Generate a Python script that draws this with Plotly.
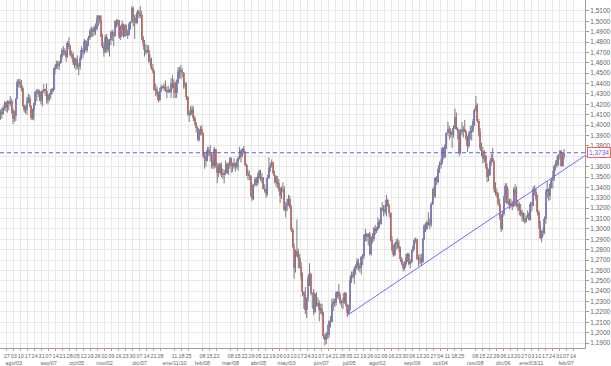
import plotly.graph_objects as go
import pandas as pd

# EUR/USD daily bars, 16-Jul-2009 .. 01-Feb-2011 (business days)
open_ = [
 1.4100,1.4130,1.4110,1.4160,1.4220,1.4160,1.4225,1.4200,1.4230,1.4150,1.4060,1.4090,
 1.4255,1.4420,1.4410,1.4400,1.4360,1.4180,1.4150,1.4150,1.4230,1.4260,1.4180,1.4070,1.4150,1.4210,1.4320,1.4330,1.4300,1.4310,1.4230,1.4330,1.4340,
 1.4330,1.4240,1.4260,1.4290,1.4330,1.4340,1.4530,1.4560,1.4590,1.4570,1.4600,1.4660,1.4720,1.4710,1.4700,1.4660,1.4790,1.4750,1.4680,1.4680,1.4610,1.4580,
 1.4640,1.4570,1.4560,1.4650,1.4720,1.4690,1.4810,1.4720,1.4780,1.4840,1.4910,1.4910,1.4900,1.4940,1.4930,1.5020,1.5050,1.5010,1.4850,1.4760,1.4700,1.4850,
 1.4720,1.4780,1.4820,1.4900,1.4860,1.4860,1.5000,1.4970,1.5010,1.4850,1.4950,1.4970,1.4860,1.4960,1.4890,1.4870,1.4970,1.4990,1.5130,1.5030,1.4990,
 1.5000,1.5090,1.5070,1.5060,1.4850,1.4800,1.4720,1.4700,1.4720,1.4620,1.4640,1.4550,1.4520,1.4340,1.4340,1.4300,1.4240,1.4330,1.4370,1.4360,1.4380,1.4340,1.4320,
 1.4330,1.4320,1.4410,1.4360,1.4410,1.4310,1.4410,1.4510,1.4530,1.4520,1.4500,1.4380,1.4390,1.4270,1.4110,1.4100,1.4150,1.4150,1.4070,1.4020,1.3970,
 1.3860,1.3930,1.3960,1.3920,1.3700,1.3670,1.3660,1.3760,1.3730,1.3720,1.3610,1.3620,1.3770,1.3610,1.3540,1.3610,1.3620,1.3520,1.3520,1.3540,
 1.3630,1.3540,1.3620,1.3680,1.3610,1.3620,1.3630,1.3600,1.3640,1.3680,1.3760,1.3700,1.3770,1.3740,1.3620,1.3530,1.3520,1.3510,1.3320,1.3290,1.3420,1.3480,1.3440,
 1.3510,1.3560,1.3500,1.3490,1.3380,1.3370,1.3340,1.3490,1.3590,1.3610,1.3640,1.3540,1.3510,1.3450,1.3440,1.3390,1.3320,1.3380,1.3380,1.3180,1.3220,1.3240,
 1.3290,1.3200,1.2990,1.2830,1.2620,1.2740,1.2790,1.2720,1.2640,1.2550,1.2390,1.2360,1.2220,1.2330,1.2530,1.2570,1.2380,1.2380,1.2200,1.2370,1.2270,
 1.2290,1.2220,1.2230,1.2180,1.1970,1.1930,1.1990,1.1980,1.2110,1.2100,1.2280,1.2300,1.2290,1.2380,1.2390,1.2350,1.2290,1.2290,1.2310,1.2380,1.2270,1.2190,
 1.2230,1.2510,1.2560,1.2540,1.2610,1.2630,1.2690,1.2640,1.2620,1.2730,1.2740,1.2940,1.2950,1.2920,1.2950,1.2760,1.2920,1.2900,1.3010,1.2980,1.3000,1.3070,
 1.3050,1.3200,1.3190,1.3160,1.3190,1.3280,1.3220,1.3150,1.2890,1.2800,1.2750,1.2850,1.2870,1.2840,1.2820,1.2710,1.2660,1.2620,1.2660,1.2720,1.2760,1.2660,
 1.2680,1.2790,1.2830,1.2890,1.2900,1.2710,1.2720,1.2710,1.2680,1.2900,1.3030,1.3000,1.3070,1.3050,1.3040,1.3240,1.3380,1.3320,1.3490,1.3450,1.3580,1.3620,
 1.3630,1.3780,1.3690,1.3810,1.3920,1.3960,1.3940,1.3900,1.3920,1.3970,1.4080,1.3960,1.3930,1.3730,1.3940,1.3950,1.3960,1.3930,1.3870,1.3800,1.3920,
 1.3940,1.3950,1.4040,1.4150,1.4190,1.4040,1.3930,1.3780,1.3750,1.3670,1.3700,1.3600,1.3500,1.3520,1.3640,1.3680,1.3650,1.3380,1.3360,1.3330,1.3240,1.3120,
 1.3000,1.3140,1.3310,1.3410,1.3270,1.3250,1.3230,1.3250,1.3220,1.3380,1.3370,1.3220,1.3240,1.3180,1.3140,1.3150,1.3100,1.3070,1.3110,1.3150,1.3090,1.3240,1.3230,
 1.3380,1.3360,1.3290,1.3160,1.3040,1.2910,1.2970,1.2980,1.3100,1.3360,1.3380,1.3320,1.3430,1.3470,1.3490,1.3610,1.3620,1.3660,1.3710,1.3750,1.3610,
 1.3690,
]
high = [
 1.4150,1.4170,1.4190,1.4230,1.4225,1.4240,1.4240,1.4280,1.4255,1.4160,1.4140,1.4260,
 1.4440,1.4445,1.4445,1.4435,1.4380,1.4200,1.4190,1.4270,1.4300,1.4290,1.4190,1.4160,1.4215,1.4330,1.4345,1.4350,1.4340,1.4330,1.4340,1.4395,1.4350,
 1.4400,1.4300,1.4310,1.4350,1.4360,1.4550,1.4580,1.4620,1.4620,1.4620,1.4680,1.4740,1.4760,1.4740,1.4720,1.4810,1.4845,1.4770,1.4720,1.4700,1.4650,1.4650,
 1.4670,1.4600,1.4670,1.4760,1.4740,1.4830,1.4820,1.4800,1.4860,1.4930,1.4950,1.4940,1.4960,1.4980,1.5060,1.5060,1.5060,1.5060,1.4880,1.4800,1.4870,1.4880,
 1.4830,1.4830,1.4910,1.4920,1.4900,1.5010,1.5020,1.5020,1.5010,1.4960,1.5010,1.4980,1.4970,1.4970,1.4920,1.4990,1.5000,1.5145,1.5140,1.5060,1.5070,
 1.5110,1.5110,1.5145,1.5100,1.4860,1.4820,1.4780,1.4770,1.4770,1.4680,1.4650,1.4590,1.4530,1.4400,1.4370,1.4320,1.4360,1.4390,1.4380,1.4400,1.4430,1.4370,1.4380,
 1.4350,1.4450,1.4480,1.4440,1.4420,1.4440,1.4560,1.4560,1.4580,1.4550,1.4510,1.4420,1.4410,1.4280,1.4140,1.4180,1.4190,1.4180,1.4090,1.4030,1.3990,
 1.3940,1.3990,1.4000,1.3930,1.3740,1.3730,1.3790,1.3790,1.3810,1.3730,1.3660,1.3790,1.3770,1.3640,1.3630,1.3640,1.3640,1.3580,1.3570,1.3660,
 1.3640,1.3640,1.3690,1.3690,1.3640,1.3680,1.3640,1.3670,1.3700,1.3790,1.3760,1.3780,1.3800,1.3750,1.3630,1.3570,1.3560,1.3520,1.3440,1.3430,1.3500,1.3500,1.3540,
 1.3570,1.3570,1.3540,1.3500,1.3430,1.3390,1.3520,1.3690,1.3640,1.3670,1.3640,1.3560,1.3520,1.3510,1.3480,1.3400,1.3410,1.3450,1.3410,1.3260,1.3290,1.3330,
 1.3320,1.3230,1.3010,1.2860,1.2800,1.3090,1.2810,1.2760,1.2680,1.2580,1.2400,1.2440,1.2340,1.2550,1.2670,1.2580,1.2390,1.2420,1.2380,1.2390,1.2340,
 1.2310,1.2280,1.2280,1.2200,1.1990,1.2010,1.2080,1.2120,1.2160,1.2330,1.2330,1.2330,1.2400,1.2400,1.2470,1.2380,1.2320,1.2340,1.2390,1.2390,1.2280,1.2270,
 1.2540,1.2590,1.2590,1.2640,1.2660,1.2720,1.2710,1.2670,1.2740,1.2760,1.2950,1.3000,1.2960,1.2960,1.2970,1.2930,1.2960,1.3020,1.3040,1.3020,1.3110,1.3090,
 1.3210,1.3260,1.3230,1.3230,1.3330,1.3290,1.3240,1.3160,1.2930,1.2850,1.2870,1.2900,1.2910,1.2890,1.2830,1.2730,1.2680,1.2690,1.2760,1.2770,1.2770,1.2710,
 1.2800,1.2840,1.2910,1.2920,1.2900,1.2750,1.2760,1.2760,1.2910,1.3050,1.3060,1.3080,1.3160,1.3100,1.3260,1.3390,1.3410,1.3500,1.3510,1.3590,1.3650,1.3670,
 1.3790,1.3790,1.3820,1.3930,1.4030,1.3990,1.3970,1.3930,1.4000,1.4160,1.4120,1.3980,1.3960,1.3960,1.4030,1.3990,1.4050,1.3950,1.3900,1.3940,1.3990,
 1.4000,1.4060,1.4160,1.4282,1.4210,1.4060,1.3970,1.3830,1.3790,1.3760,1.3720,1.3630,1.3580,1.3660,1.3720,1.3780,1.3660,1.3450,1.3390,1.3350,1.3290,1.3130,
 1.3170,1.3320,1.3440,1.3440,1.3390,1.3290,1.3290,1.3270,1.3400,1.3430,1.3410,1.3280,1.3260,1.3240,1.3180,1.3160,1.3150,1.3130,1.3180,1.3160,1.3260,1.3260,1.3410,
 1.3420,1.3390,1.3330,1.3180,1.3080,1.2990,1.3010,1.3120,1.3380,1.3460,1.3390,1.3440,1.3490,1.3560,1.3620,1.3660,1.3700,1.3720,1.3760,1.3760,1.3730,
 1.3770,
]
low = [
 1.4050,1.4060,1.4100,1.4140,1.4130,1.4120,1.4140,1.4180,1.4110,1.4010,1.4030,1.4040,
 1.4250,1.4365,1.4355,1.4325,1.4175,1.4120,1.4110,1.4100,1.4210,1.4170,1.4050,1.4050,1.4045,1.4190,1.4230,1.4270,1.4230,1.4200,1.4180,1.4310,1.4280,
 1.4210,1.4200,1.4230,1.4250,1.4300,1.4320,1.4490,1.4540,1.4540,1.4530,1.4590,1.4640,1.4670,1.4670,1.4610,1.4650,1.4730,1.4660,1.4640,1.4580,1.4550,1.4530,
 1.4540,1.4480,1.4530,1.4630,1.4650,1.4680,1.4710,1.4700,1.4760,1.4820,1.4850,1.4850,1.4860,1.4870,1.4910,1.4950,1.4980,1.4850,1.4740,1.4660,1.4690,1.4700,
 1.4700,1.4660,1.4770,1.4810,1.4760,1.4850,1.4940,1.4950,1.4830,1.4820,1.4920,1.4840,1.4850,1.4860,1.4830,1.4860,1.4920,1.4980,1.4950,1.4830,1.4970,
 1.4980,1.5030,1.5030,1.4820,1.4760,1.4660,1.4680,1.4690,1.4600,1.4580,1.4530,1.4500,1.4330,1.4280,1.4270,1.4220,1.4230,1.4320,1.4350,1.4330,1.4320,1.4260,1.4310,
 1.4310,1.4260,1.4350,1.4260,1.4260,1.4260,1.4400,1.4450,1.4440,1.4460,1.4350,1.4350,1.4240,1.4090,1.4030,1.4090,1.4110,1.4040,1.4000,1.3930,1.3850,
 1.3840,1.3900,1.3900,1.3680,1.3580,1.3600,1.3650,1.3700,1.3650,1.3580,1.3580,1.3580,1.3590,1.3440,1.3500,1.3540,1.3500,1.3480,1.3440,1.3520,
 1.3530,1.3520,1.3580,1.3540,1.3550,1.3580,1.3550,1.3580,1.3560,1.3670,1.3640,1.3690,1.3720,1.3600,1.3510,1.3470,1.3470,1.3310,1.3270,1.3280,1.3410,1.3410,1.3420,
 1.3480,1.3460,1.3440,1.3380,1.3350,1.3300,1.3320,1.3480,1.3550,1.3590,1.3530,1.3440,1.3410,1.3390,1.3360,1.3250,1.3290,1.3350,1.3170,1.3110,1.3170,1.3220,
 1.3190,1.2970,1.2820,1.2520,1.2580,1.2730,1.2620,1.2620,1.2500,1.2350,1.2230,1.2180,1.2140,1.2300,1.2450,1.2360,1.2230,1.2170,1.2190,1.2250,1.2250,
 1.2110,1.2180,1.2160,1.1940,1.1876,1.1890,1.1940,1.1950,1.2050,1.2100,1.2210,1.2250,1.2260,1.2330,1.2320,1.2270,1.2240,1.2230,1.2280,1.2250,1.2151,1.2170,
 1.2210,1.2480,1.2520,1.2470,1.2560,1.2610,1.2600,1.2580,1.2560,1.2650,1.2710,1.2880,1.2880,1.2840,1.2750,1.2740,1.2860,1.2880,1.2940,1.2960,1.2990,1.3010,
 1.3040,1.3170,1.3120,1.3140,1.3120,1.3210,1.3110,1.2880,1.2780,1.2730,1.2740,1.2800,1.2810,1.2780,1.2680,1.2650,1.2590,1.2600,1.2640,1.2680,1.2650,1.2620,
 1.2670,1.2770,1.2800,1.2860,1.2700,1.2640,1.2660,1.2640,1.2670,1.2890,1.2970,1.2990,1.3030,1.3000,1.3020,1.3230,1.3300,1.3300,1.3420,1.3440,1.3540,1.3580,
 1.3630,1.3670,1.3680,1.3770,1.3900,1.3860,1.3880,1.3780,1.3880,1.3960,1.3950,1.3860,1.3700,1.3720,1.3900,1.3880,1.3930,1.3850,1.3740,1.3780,1.3860,
 1.3850,1.3930,1.3990,1.4130,1.4020,1.3890,1.3760,1.3700,1.3630,1.3640,1.3580,1.3450,1.3460,1.3510,1.3610,1.3640,1.3350,1.3320,1.3300,1.3220,1.3090,1.2970,
 1.2990,1.3120,1.3250,1.3240,1.3230,1.3190,1.3200,1.3180,1.3210,1.3340,1.3210,1.3170,1.3130,1.3120,1.3070,1.3070,1.3050,1.3060,1.3100,1.3080,1.3080,1.3170,1.3220,
 1.3320,1.3270,1.3130,1.3000,1.2900,1.2870,1.2930,1.2950,1.3050,1.3300,1.3270,1.3280,1.3390,1.3390,1.3460,1.3560,1.3590,1.3610,1.3670,1.3600,1.3600,
 1.3670,
]
close = [
 1.4130,1.4110,1.4160,1.4220,1.4160,1.4225,1.4200,1.4230,1.4150,1.4060,1.4090,1.4255,
 1.4420,1.4410,1.4400,1.4360,1.4180,1.4150,1.4150,1.4230,1.4260,1.4180,1.4070,1.4150,1.4210,1.4320,1.4330,1.4300,1.4310,1.4230,1.4330,1.4340,1.4330,
 1.4240,1.4260,1.4290,1.4330,1.4340,1.4530,1.4560,1.4590,1.4570,1.4600,1.4660,1.4720,1.4710,1.4700,1.4660,1.4790,1.4750,1.4680,1.4680,1.4610,1.4580,1.4640,
 1.4570,1.4560,1.4650,1.4720,1.4690,1.4810,1.4720,1.4780,1.4840,1.4910,1.4910,1.4900,1.4940,1.4930,1.5020,1.5050,1.5010,1.4850,1.4760,1.4700,1.4850,1.4720,
 1.4780,1.4820,1.4900,1.4860,1.4860,1.5000,1.4970,1.5010,1.4850,1.4950,1.4970,1.4860,1.4960,1.4890,1.4870,1.4970,1.4990,1.5130,1.5030,1.4990,1.5000,
 1.5090,1.5070,1.5060,1.4850,1.4800,1.4720,1.4700,1.4720,1.4620,1.4640,1.4550,1.4520,1.4340,1.4340,1.4300,1.4240,1.4330,1.4370,1.4360,1.4380,1.4340,1.4320,1.4330,
 1.4320,1.4410,1.4360,1.4410,1.4310,1.4410,1.4510,1.4530,1.4520,1.4500,1.4380,1.4390,1.4270,1.4110,1.4100,1.4150,1.4150,1.4070,1.4020,1.3970,1.3860,
 1.3930,1.3960,1.3920,1.3700,1.3670,1.3660,1.3760,1.3730,1.3720,1.3610,1.3620,1.3770,1.3610,1.3540,1.3610,1.3620,1.3520,1.3520,1.3540,1.3630,
 1.3540,1.3620,1.3680,1.3610,1.3620,1.3630,1.3600,1.3640,1.3680,1.3760,1.3700,1.3770,1.3740,1.3620,1.3530,1.3520,1.3510,1.3320,1.3290,1.3420,1.3480,1.3440,1.3510,
 1.3560,1.3500,1.3490,1.3380,1.3370,1.3340,1.3490,1.3590,1.3610,1.3640,1.3540,1.3510,1.3450,1.3440,1.3390,1.3320,1.3380,1.3380,1.3180,1.3220,1.3240,1.3290,
 1.3200,1.2990,1.2830,1.2620,1.2740,1.2790,1.2720,1.2640,1.2550,1.2390,1.2360,1.2220,1.2330,1.2530,1.2570,1.2380,1.2380,1.2200,1.2370,1.2270,1.2290,
 1.2220,1.2230,1.2180,1.1970,1.1930,1.1990,1.1980,1.2110,1.2100,1.2280,1.2300,1.2290,1.2380,1.2390,1.2350,1.2290,1.2290,1.2310,1.2380,1.2270,1.2190,1.2230,
 1.2510,1.2560,1.2540,1.2610,1.2630,1.2690,1.2640,1.2620,1.2730,1.2740,1.2940,1.2950,1.2920,1.2950,1.2760,1.2920,1.2900,1.3010,1.2980,1.3000,1.3070,1.3050,
 1.3200,1.3190,1.3160,1.3190,1.3280,1.3220,1.3150,1.2890,1.2800,1.2750,1.2850,1.2870,1.2840,1.2820,1.2710,1.2660,1.2620,1.2660,1.2720,1.2760,1.2660,1.2680,
 1.2790,1.2830,1.2890,1.2900,1.2710,1.2720,1.2710,1.2680,1.2900,1.3030,1.3000,1.3070,1.3050,1.3040,1.3240,1.3380,1.3320,1.3490,1.3450,1.3580,1.3620,1.3630,
 1.3780,1.3690,1.3810,1.3920,1.3960,1.3940,1.3900,1.3920,1.3970,1.4080,1.3960,1.3930,1.3730,1.3940,1.3950,1.3960,1.3930,1.3870,1.3800,1.3920,1.3940,
 1.3950,1.4040,1.4150,1.4190,1.4040,1.3930,1.3780,1.3750,1.3670,1.3700,1.3600,1.3500,1.3520,1.3640,1.3680,1.3650,1.3380,1.3360,1.3330,1.3240,1.3120,1.3000,
 1.3140,1.3310,1.3410,1.3270,1.3250,1.3230,1.3250,1.3220,1.3380,1.3370,1.3220,1.3240,1.3180,1.3140,1.3150,1.3100,1.3070,1.3110,1.3150,1.3090,1.3240,1.3230,1.3380,
 1.3360,1.3290,1.3160,1.3040,1.2910,1.2970,1.2980,1.3100,1.3360,1.3380,1.3320,1.3430,1.3470,1.3490,1.3610,1.3620,1.3660,1.3710,1.3750,1.3610,1.3690,
 1.3734,
]

last_price = 1.3734
last_price_label = "1,3734"
# trend line drawn on the chart: anchored at the 29-Jun-2010 low, reaching the right edge
trend_start_date = "2010-06-29"
trend_start_value = 1.2168
trend_end_value = 1.3706

# y-axis price levels (every 0.01); the 1,3700 label sits under the last-price box
price_levels = [1.19, 1.20, 1.21, 1.22, 1.23, 1.24, 1.25, 1.26, 1.27, 1.28, 1.29,
                1.30, 1.31, 1.32, 1.33, 1.34, 1.35, 1.36, 1.37, 1.38, 1.39, 1.40,
                1.41, 1.42, 1.43, 1.44, 1.45, 1.46, 1.47, 1.48, 1.49, 1.50, 1.51]
hidden_price_label = 1.37

# x-axis week labels (Mondays) with month captions (Spanish)
month_captions = {
    "2009-08-03": "ago/03", "2009-09-07": "sep/07", "2009-10-05": "oct/05",
    "2009-11-02": "nov/02", "2009-12-07": "dic/07", "2010-01-11": "ene/11/10",
    "2010-02-08": "feb/08", "2010-03-08": "mar/08", "2010-04-05": "abr/05",
    "2010-05-03": "may/03", "2010-06-07": "jun/07", "2010-07-05": "jul/05",
    "2010-08-02": "ago/02", "2010-09-06": "sep/06", "2010-10-04": "oct/04",
    "2010-11-08": "nov/08", "2010-12-06": "dic/06", "2011-01-03": "ene/03/11",
    "2011-02-07": "feb/07",
}
skipped_weeks = {"2010-01-04", "2010-02-01", "2010-03-01", "2010-11-01"}

n = len(close)
assert len(open_) == n and len(high) == n and len(low) == n, (len(open_), len(high), len(low), n)

axis_dates = pd.bdate_range("2009-07-16", "2011-03-04")
dates = axis_dates[:n]
xs = list(range(n))

X_MAX = 418.0
tickvals, ticktext = [], []
for i, d in enumerate(axis_dates):
    if d.weekday() != 0:
        continue
    key = d.strftime("%Y-%m-%d")
    if key in skipped_weeks or d > pd.Timestamp("2011-02-14"):
        continue
    txt = d.strftime("%d")
    if key in month_captions:
        txt += "<br>" + month_captions[key]
    tickvals.append(i - 2.5)
    ticktext.append(txt)

ytext = ["" if abs(v - hidden_price_label) < 1e-9 else f"{v:.4f}".replace(".", ",")
         for v in price_levels]

BLUE = "#8585ff"
RED = "#ff6e6e"
WICK = "#7c7c7c"

# wicks (high-low)
wx, wy = [], []
for i in xs:
    wx += [i, i, None]
    wy += [low[i], high[i], None]

body_base = [min(o, c) for o, c in zip(open_, close)]
body_len = [max(abs(c - o), 0.0002) for o, c in zip(open_, close)]
body_col = [BLUE if c >= o else RED for o, c in zip(open_, close)]

fig = go.Figure()
fig.add_trace(go.Scatter(x=wx, y=wy, mode="lines", line=dict(color=WICK, width=1),
                         hoverinfo="skip", showlegend=False))
fig.add_trace(go.Bar(x=xs, y=body_len, base=body_base, width=0.8,
                     marker=dict(color=body_col, line=dict(width=0)),
                     showlegend=False, customdata=[d.strftime("%d/%m/%Y") for d in dates]))

trend_x0 = list(dates.strftime("%Y-%m-%d")).index(trend_start_date)
fig.add_shape(type="line", xref="x", yref="y", x0=trend_x0, y0=trend_start_value,
              x1=X_MAX, y1=trend_end_value, line=dict(color="#6a6aff", width=1))
fig.add_shape(type="line", xref="paper", yref="y", x0=0, x1=1, y0=last_price, y1=last_price,
              line=dict(color="#5a5aff", width=1, dash="4px,3px"))
fig.add_annotation(xref="paper", yref="y", x=1, y=last_price, xanchor="left", xshift=2,
                   text=last_price_label, showarrow=False,
                   font=dict(size=6.5, color="#5a5aff", family="Arial"),
                   bgcolor="white", bordercolor="#ff5a5a", borderwidth=1, borderpad=1)

fig.update_layout(
    width=611, height=366,
    margin=dict(l=0, r=25, t=0, b=15),
    plot_bgcolor="white", paper_bgcolor="white",
    showlegend=False,
    bargap=0,
    font=dict(family="Arial", size=6.5, color="#666666"),
)
fig.update_xaxes(
    range=[-0.3, X_MAX], tickmode="array", tickvals=tickvals, ticktext=ticktext,
    tickangle=0, showgrid=True, gridcolor="#e8e8e8", gridwidth=1,
    ticks="outside", ticklen=2, tickcolor="#e89090",
    showline=True, linecolor="#a0a0a0", linewidth=1, zeroline=False,
    tickfont=dict(size=5.5, color="#666666"),
)
fig.update_yaxes(
    side="right", range=[1.1853, 1.5205], tickmode="array",
    tickvals=price_levels, ticktext=ytext,
    showgrid=True, gridcolor="#e8e8e8", gridwidth=1,
    ticks="outside", ticklen=3, tickcolor="#9a9a9a",
    showline=True, linecolor="#9a9a9a", linewidth=1, zeroline=False,
    tickfont=dict(size=6.5, color="#666666"),
)

fig.write_html("out.html")
